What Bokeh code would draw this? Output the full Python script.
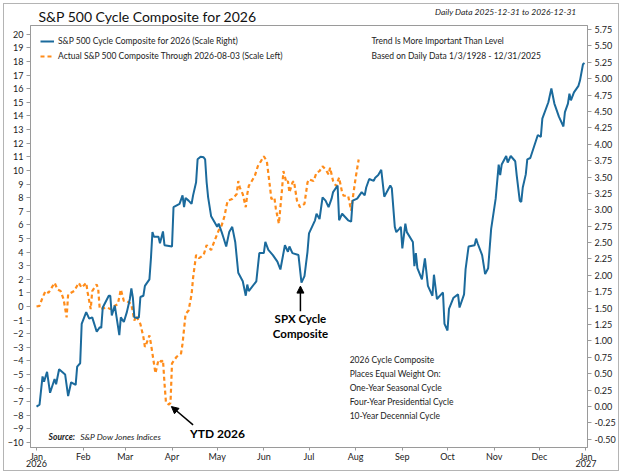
import pandas as pd
from bokeh.plotting import figure
from bokeh.models import (Range1d, LinearAxis, FixedTicker, NumeralTickFormatter,
                          Label, Arrow, NormalHead, Legend, LegendItem, Title)
from bokeh.embed import file_html
from bokeh.resources import INLINE

BLUE = "#1b6a9c"
ORANGE = "#ff8c1a"
FONT = "Lato"
GREY = "#9a9a9a"
TEXT = "#222222"

# S&P 500 cycle composite for 2026 (right scale), days after 2026-01-01
cycle_day = [0, 2, 4, 5, 7, 9, 12, 13, 15, 19, 21, 23, 26, 27, 29, 30, 33, 35, 37, 40,
             42, 43, 44, 48, 49, 50, 52, 55, 56, 58, 60, 62, 63, 64, 65, 67, 68, 69, 71, 72,
             75, 76, 77, 78, 81, 82, 84, 85, 90, 91, 95, 97, 98, 99, 101, 103, 104, 106, 107, 109,
             111, 112, 113, 114, 116, 118, 120, 121, 123, 124, 126, 128, 130, 132, 134, 137, 139, 140, 141, 146,
             148, 151, 152, 154, 157, 160, 162, 165, 167, 168, 170, 174, 176, 178, 180, 181, 185, 186, 188, 190,
             192, 194, 196, 197, 200, 201, 203, 205, 207, 209, 210, 213, 216, 218, 219, 221, 224, 225, 227, 229,
             231, 235, 236, 238, 239, 241, 242, 243, 245, 246, 250, 251, 252, 253, 256, 258, 260, 263, 264, 266,
             270, 271, 273, 274, 277, 280, 281, 284, 285, 287, 291, 292, 293, 296, 298, 300, 302, 305, 307, 308,
             309, 312, 313, 315, 318, 319, 321, 322, 323, 325, 326, 328, 333, 335, 336, 340, 342, 344, 347, 350,
             351, 353, 354, 355, 357, 360, 361, 363, 364]
cycle_val = [0.00, 0.03, 0.46, 0.38, 0.53, 0.21, 0.42, 0.34, 0.57, 0.49, 0.16, 0.37, 0.33, 0.61, 0.66, 1.26, 1.44, 1.34, 1.36, 1.14,
             1.21, 1.20, 1.51, 1.69, 1.69, 1.39, 1.54, 1.09, 1.36, 1.29, 1.44, 1.64, 1.80, 1.66, 1.36, 1.35, 1.36, 1.67, 1.69, 1.84,
             1.94, 2.26, 2.66, 2.59, 2.59, 2.49, 2.67, 2.46, 2.44, 3.04, 3.09, 3.22, 3.04, 3.18, 3.14, 3.09, 3.22, 3.42, 3.77, 3.81,
             3.80, 3.77, 3.42, 3.19, 2.90, 2.82, 2.74, 2.79, 2.66, 2.59, 2.44, 2.66, 2.74, 2.51, 2.04, 1.91, 1.69, 1.86, 1.76, 1.91,
             2.34, 2.34, 2.51, 2.39, 2.31, 2.21, 2.09, 2.46, 2.36, 2.44, 2.34, 2.31, 1.89, 1.99, 2.36, 2.64, 2.84, 2.94, 2.86, 3.19,
             3.14, 3.04, 3.17, 3.27, 3.37, 2.84, 2.94, 2.89, 2.84, 2.82, 3.14, 3.17, 3.27, 3.22, 3.34, 3.47, 3.44, 3.49, 3.53, 3.61,
             3.20, 3.37, 3.33, 2.74, 2.66, 2.71, 2.74, 2.41, 2.79, 2.66, 2.51, 2.14, 2.34, 2.11, 1.94, 2.26, 1.84, 1.69, 2.01, 1.64,
             1.74, 1.26, 1.16, 1.49, 1.66, 1.71, 1.51, 1.71, 2.09, 2.44, 2.46, 2.56, 2.49, 2.31, 2.02, 2.11, 2.71, 3.17, 3.69, 3.53,
             3.69, 3.82, 3.72, 3.82, 3.74, 3.52, 3.14, 3.12, 3.34, 3.54, 3.77, 3.79, 4.14, 4.11, 4.39, 4.64, 4.85, 4.62, 4.42, 4.27,
             4.49, 4.62, 4.77, 4.67, 4.79, 4.89, 4.97, 5.22, 5.24]

# actual S&P 500 composite through 2026-08-03 (left scale)
actual_day = [0, 2, 4, 6, 8, 12, 14, 16, 18, 20, 21, 25, 28, 30, 33, 34, 36, 37, 40, 41,
              42, 47, 49, 52, 54, 56, 58, 60, 63, 65, 66, 69, 71, 72, 73, 75, 76, 78, 79, 81,
              83, 84, 85, 86, 88, 89, 90, 93, 96, 97, 99, 101, 103, 104, 106, 108, 111, 113, 116, 118,
              121, 123, 125, 126, 127, 130, 133, 134, 135, 137, 138, 139, 140, 141, 145, 147, 149, 151, 153, 155,
              156, 158, 159, 161, 162, 163, 164, 166, 167, 168, 170, 171, 173, 175, 178, 180, 181, 184, 186, 188,
              190, 192, 194, 195, 197, 199, 201, 203, 204, 207, 209, 210, 212, 214]
actual_val = [0.00, 0.05, 0.65, 1.14, 1.01, 1.74, 1.25, 1.14, 0.53, -0.80, 0.89, 1.14, 1.74, 1.38, 1.74, 1.01, -0.19, 1.14, 1.62, 1.25,
              -0.19, -0.07, -0.19, 0.05, 0.17, 1.25, 0.41, 0.41, 0.17, -1.04, -0.67, -1.28, -2.25, -2.97, -2.73, -2.12, -2.73, -4.18, -4.91, -3.93,
              -4.06, -3.93, -5.63, -7.08, -7.20, -7.08, -4.18, -3.70, -3.45, -2.73, -0.56, -0.29, 0.89, 2.10, 3.79, 3.55, 3.79, 4.51, 4.15, 4.76,
              5.60, 5.96, 6.69, 7.30, 7.78, 7.90, 8.26, 9.22, 8.75, 8.26, 7.78, 7.30, 8.26, 8.86, 9.59, 10.31, 10.67, 11.04, 10.67, 8.86,
              7.90, 8.02, 7.17, 6.09, 7.30, 8.50, 9.95, 9.11, 9.22, 8.38, 9.11, 9.22, 7.78, 7.30, 7.54, 9.11, 9.35, 9.22, 9.83, 9.95,
              10.31, 10.07, 9.71, 10.20, 9.22, 8.86, 9.47, 8.38, 8.14, 8.14, 7.05, 7.90, 9.47, 10.80]

month_labels = ["Jan\n2026", "Feb", "Mar", "Apr", "May", "Jun", "Jul",
                "Aug", "Sep", "Oct", "Nov", "Dec", "Jan\n2027"]
left_ticks = list(range(-10, 21))
right_ticks = [q / 4 for q in range(-2, 24)]

notes = ["2026 Cycle Composite", "Places Equal Weight On:", "One-Year Seasonal Cycle",
         "Four-Year Presidential Cycle", "10-Year Decennial Cycle"]
legend_labels = ["S&P 500 Cycle Composite for 2026 (Scale Right)",
                 "Actual S&P 500 Composite Through 2026-08-03 (Scale Left)"]

year_start = pd.Timestamp("2026-01-01")


def when(day):
    return (year_start + pd.Timedelta(days=day)).timestamp() * 1000


cycle_dates = year_start + pd.to_timedelta(cycle_day, unit="D")
actual_dates = year_start + pd.to_timedelta(actual_day, unit="D")

p = figure(
    width=616,
    height=468,
    x_axis_type="datetime",
    x_range=Range1d(when(-4), when(366)),
    y_range=Range1d(-10.36, 20.65),
    output_backend="svg",
    toolbar_location=None,
    title=None,
    min_border_left=22,
    min_border_right=33,
    min_border_top=4,
    min_border_bottom=4,
)
p.styles = {"margin": "3px", "border": "1px solid #b4b4b4"}
p.xgrid.visible = False
p.ygrid.visible = False
p.outline_line_color = GREY
p.background_fill_color = "white"
p.extra_y_ranges["right"] = Range1d(-0.624, 5.81)

# main title first; the date-range note stacks above it and is pulled down into the same row
p.add_layout(Title(text="S&P 500 Cycle Composite for 2026", align="left", offset=8,
                   standoff=2, text_font=FONT, text_font_size="14px",
                   text_font_style="normal", text_color="#111111", text_line_height=1.0), "above")
p.add_layout(Title(text="Daily Data 2025-12-31 to 2026-12-31", align="right", offset=11,
                   standoff=-24, text_font=FONT, text_font_size="8.5px",
                   text_font_style="italic", text_color=TEXT, text_line_height=2.6), "above")

right_axis = LinearAxis(y_range_name="right")
p.add_layout(right_axis, "right")

month_ticks = [d.timestamp() * 1000 for d in pd.date_range("2026-01-01", periods=13, freq="MS")]
p.xaxis.ticker = FixedTicker(ticks=month_ticks)
p.xaxis.major_label_overrides = dict(zip(month_ticks, month_labels))
p.yaxis[0].ticker = FixedTicker(ticks=left_ticks)
right_axis.ticker = FixedTicker(ticks=right_ticks)
right_axis.formatter = NumeralTickFormatter(format="0.00")

for ax in p.axis:
    ax.axis_line_color = GREY
    ax.major_tick_line_color = GREY
    ax.minor_tick_line_color = None
    ax.major_tick_in = 0
    ax.major_tick_out = 4
    ax.major_label_text_font = FONT
    ax.major_label_text_font_size = "9px"
    ax.major_label_text_color = TEXT
    ax.major_label_standoff = 3
p.xaxis.major_tick_out = 3
p.xaxis.major_label_standoff = 0
p.xaxis.major_label_text_line_height = 0.7

actual_r = p.line(actual_dates, actual_val, line_color=ORANGE, line_width=2.2, line_dash="4 3")
cycle_r = p.line(cycle_dates, cycle_val, line_color=BLUE, line_width=2.0, y_range_name="right")

legend = Legend(
    items=[LegendItem(label=legend_labels[0], renderers=[cycle_r]),
           LegendItem(label=legend_labels[1], renderers=[actual_r])],
    location="top_left",
    border_line_color=None,
    background_fill_alpha=0,
    label_text_font=FONT,
    label_text_font_size="8.5px",
    label_text_color=TEXT,
    glyph_width=14,
    glyph_height=10,
    label_height=12,
    spacing=3,
    padding=0,
    margin=10,
    label_standoff=4,
)
p.add_layout(legend)


def add_text(day, y, text, size="8.5px", style="normal", align="left", color=TEXT):
    p.add_layout(Label(x=when(day), y=y, text=text, text_font=FONT, text_font_size=size,
                       text_font_style=style, text_align=align, text_baseline="middle",
                       text_color=color))


add_text(222.5, 19.5, "Trend Is More Important Than Level")
add_text(222.5, 18.4, "Based on Daily Data 1/3/1928 - 12/31/2025")
for i, line in enumerate(notes):
    add_text(208, -3.95 - i * 1.02, line)
add_text(8, -9.57, "Source:", style="bold italic")
add_text(29, -9.57, "S&P Dow Jones Indices", style="italic")
add_text(102, -9.3, "YTD 2026", size="12px", style="bold", color="black")
add_text(175.3, -0.87, "SPX Cycle", size="11.5px", style="bold", align="center", color="black")
add_text(175.3, -1.96, "Composite", size="11.5px", style="bold", align="center", color="black")

p.add_layout(Arrow(end=NormalHead(size=7, fill_color="black", line_color="black"),
                   x_start=when(104), y_start=-8.7, x_end=when(89.6), y_end=-7.35,
                   line_width=1.5, line_color="black"))
p.add_layout(Arrow(end=NormalHead(size=7, fill_color="black", line_color="black"),
                   x_start=when(175.3), y_start=-0.35, x_end=when(175.3), y_end=1.5,
                   line_width=1.5, line_color="black"))

open("out.html", "w").write(file_html(p, INLINE))
